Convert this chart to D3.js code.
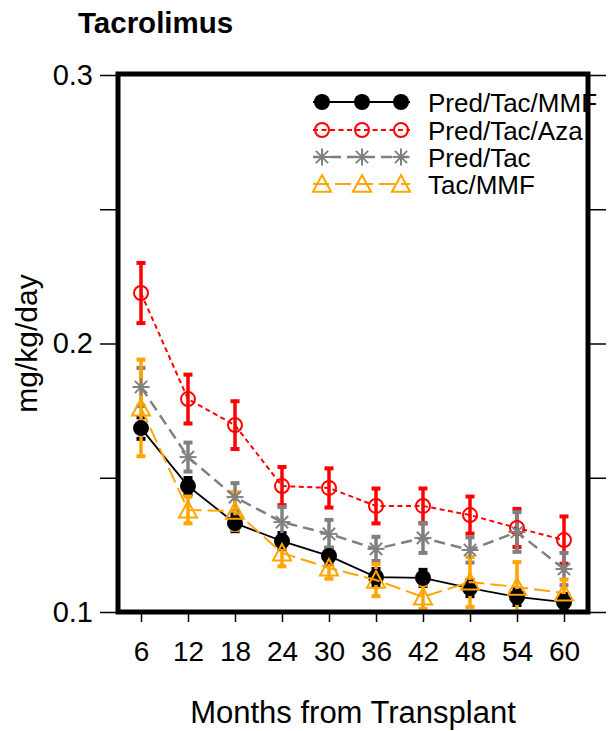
<!DOCTYPE html>
<html>
<head>
<meta charset="utf-8">
<script src="https://cdn.jsdelivr.net/npm/d3@7"></script>
<style>
  html, body { margin: 0; padding: 0; background: #fff; }
  svg { display: block; font-family: "Liberation Sans", Arial, sans-serif; }
</style>
</head>
<body>
<svg id="chart" width="608" height="731"></svg>
<script>
// ---- data ----
const months = [6, 12, 18, 24, 30, 36, 42, 48, 54, 60];
const seriesNames = ["Pred/Tac/MMF", "Pred/Tac/Aza", "Pred/Tac", "Tac/MMF"];
const predTacMMF     = [0.1685, 0.1469, 0.1331, 0.1264, 0.1209, 0.1130, 0.1127, 0.1089, 0.1056, 0.1037];
const predTacMMFErr  = [0.004, 0.003, 0.003, 0.003, 0.003, 0.003, 0.003, 0.003, 0.003, 0.003];
const predTacAza     = [0.2188, 0.1793, 0.1696, 0.1469, 0.1462, 0.1395, 0.1395, 0.1361, 0.1313, 0.1268];
const predTacAzaErr  = [0.0112, 0.0091, 0.0089, 0.0071, 0.0073, 0.0065, 0.0065, 0.0069, 0.0071, 0.0088];
const predTac        = [0.1838, 0.1577, 0.1428, 0.1335, 0.1291, 0.1235, 0.1276, 0.1231, 0.1298, 0.1160];
const predTacErr     = [0.0071, 0.0054, 0.0052, 0.0056, 0.0052, 0.0045, 0.0056, 0.0047, 0.0074, 0.0060];
const tacMMF         = [0.1760, 0.1380, 0.1376, 0.1220, 0.1164, 0.1119, 0.1056, 0.1112, 0.1093, 0.1071];
const tacMMFErr      = [0.0180, 0.0050, 0.0070, 0.0050, 0.0040, 0.0060, 0.0045, 0.0093, 0.0093, 0.0050];
const yTicks = [0.1, 0.15, 0.2, 0.25, 0.3];
const yTickLabels = ["0.1", "", "0.2", "", "0.3"];
const titleText = "Tacrolimus";
const xTitle = "Months from Transplant";
const yTitle = "mg/kg/day";

// ---- styles ----
const series = [
  { name: seriesNames[0], values: predTacMMF, err: predTacMMFErr, color: "#000000", dash: null, lw: 1.8, marker: "dot" },
  { name: seriesNames[1], values: predTacAza, err: predTacAzaErr, color: "#FF0000", dash: "5,3.5", lw: 2, marker: "circle" },
  { name: seriesNames[2], values: predTac, err: predTacErr, color: "#808080", dash: "11,6", lw: 2.5, marker: "star" },
  { name: seriesNames[3], values: tacMMF, err: tacMMFErr, color: "#FFA500", dash: "16,6", lw: 2, marker: "triangle" }
];

const svg = d3.select("#chart");
svg.append("rect").attr("width", 608).attr("height", 731).attr("fill", "#fff");

const pLeft = 118, pRight = 588, pTop = 75, pBottom = 612;
const x = d3.scalePoint().domain(months).range([141, 564]);
const y = d3.scaleLinear().domain([0.1, 0.3]).range([pBottom, pTop]);

// title
svg.append("text").attr("x", 78).attr("y", 33).attr("font-size", 29.5).attr("font-weight", "bold")
  .attr("fill", "#000").text(titleText);

// y axis left
const yAxis = d3.axisLeft(y).tickValues(yTicks)
  .tickFormat((d, i) => yTickLabels[i]).tickSize(18).tickPadding(7);
const gy = svg.append("g").attr("transform", `translate(${pLeft},0)`).call(yAxis);
gy.select(".domain").remove();
gy.selectAll(".tick line").attr("stroke", "#000").attr("stroke-width", 1.5);
gy.selectAll(".tick text").attr("font-size", 29).attr("font-family", "Liberation Sans, Arial, sans-serif").attr("fill", "#000");

// y axis right (ticks only)
const yAxisR = d3.axisRight(y).tickValues(yTicks).tickFormat("").tickSize(18);
const gyr = svg.append("g").attr("transform", `translate(${pRight},0)`).call(yAxisR);
gyr.select(".domain").remove();
gyr.selectAll(".tick line").attr("stroke", "#000").attr("stroke-width", 1.5);

// x axis
const xAxis = d3.axisBottom(x).tickSize(10).tickPadding(19);
const gx = svg.append("g").attr("transform", `translate(0,${pBottom})`).call(xAxis);
gx.select(".domain").remove();
gx.selectAll(".tick line").attr("stroke", "#000").attr("stroke-width", 1.5);
gx.selectAll(".tick text").attr("font-size", 28).attr("font-family", "Liberation Sans, Arial, sans-serif").attr("fill", "#000");

// axis titles
svg.append("text").attr("x", (pLeft + pRight) / 2).attr("y", 723).attr("text-anchor", "middle")
  .attr("font-size", 31).attr("fill", "#000").text(xTitle);
svg.append("text").attr("transform", `translate(37,${(pTop + pBottom) / 2}) rotate(-90)`)
  .attr("text-anchor", "middle").attr("font-size", 30).attr("fill", "#000").text(yTitle);

// marker drawing
function drawMarker(g, type, cx, cy, color) {
  if (type === "dot") {
    g.append("circle").attr("cx", cx).attr("cy", cy).attr("r", 8).attr("fill", color);
  } else if (type === "circle") {
    g.append("circle").attr("cx", cx).attr("cy", cy).attr("r", 7).attr("fill", "none")
      .attr("stroke", color).attr("stroke-width", 2);
  } else if (type === "star") {
    const r = 8.5, d = r * 0.72;
    const segs = [[-r, 0, r, 0], [0, -r, 0, r], [-d, -d, d, d], [-d, d, d, -d]];
    segs.forEach(s => g.append("line").attr("x1", cx + s[0]).attr("y1", cy + s[1])
      .attr("x2", cx + s[2]).attr("y2", cy + s[3]).attr("stroke", color).attr("stroke-width", 2));
  } else if (type === "triangle") {
    const h = 9;
    const pts = [[cx, cy - h], [cx + h, cy + h * 0.85], [cx - h, cy + h * 0.85]];
    g.append("polygon").attr("points", pts.map(p => p.join(",")).join(" "))
      .attr("fill", "none").attr("stroke", color).attr("stroke-width", 2).attr("stroke-linejoin", "miter");
  }
}

const plot = svg.append("g");

// error bars first
series.forEach(s => {
  const g = plot.append("g");
  months.forEach((m, i) => {
    const cx = x(m), y1 = y(s.values[i] + s.err[i]), y2 = y(s.values[i] - s.err[i]);
    g.append("line").attr("x1", cx).attr("x2", cx).attr("y1", y1).attr("y2", y2)
      .attr("stroke", s.color).attr("stroke-width", 3.5);
    [y1, y2].forEach(yy => g.append("line").attr("x1", cx - 4.5).attr("x2", cx + 4.5)
      .attr("y1", yy).attr("y2", yy).attr("stroke", s.color).attr("stroke-width", 4));
  });
});

// lines and markers
const line = d3.line().x((d, i) => x(months[i])).y(d => y(d));
series.forEach(s => {
  const g = plot.append("g");
  g.append("path").attr("d", line(s.values)).attr("fill", "none").attr("stroke", s.color)
    .attr("stroke-width", s.lw).attr("stroke-dasharray", s.dash);
  months.forEach((m, i) => drawMarker(g, s.marker, x(m), y(s.values[i]), s.color));
});

// legend
const legend = svg.append("g");
const legRows = [102, 130, 157, 184];
series.forEach((s, k) => {
  const ly = legRows[k];
  legend.append("line").attr("x1", 313).attr("x2", 410).attr("y1", ly).attr("y2", ly)
    .attr("stroke", s.color).attr("stroke-width", s.lw).attr("stroke-dasharray", s.dash);
  [322, 362, 401].forEach(mx => drawMarker(legend, s.marker, mx, ly, s.color));
  legend.append("text").attr("x", 428).attr("y", ly + 10).attr("font-size", 26).attr("fill", "#000").text(s.name);
});

// plot box (drawn on top)
svg.append("rect").attr("x", pLeft).attr("y", pTop - 1).attr("width", pRight - pLeft).attr("height", pBottom - pTop + 1)
  .attr("fill", "none").attr("stroke", "#000").attr("stroke-width", 5);
</script>
</body>
</html>
